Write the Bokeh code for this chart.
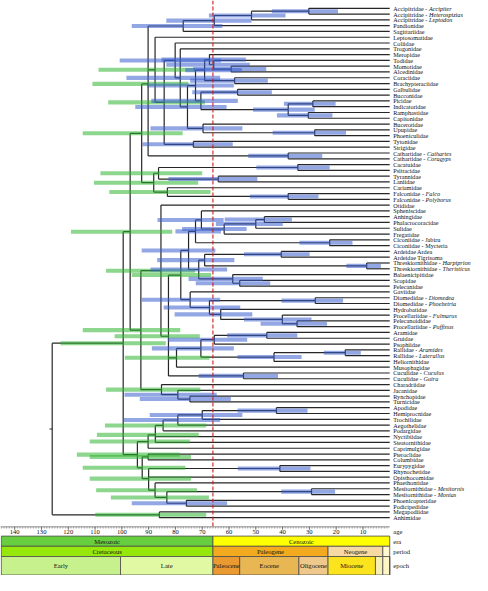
from bokeh.plotting import figure
from bokeh.models import Range1d
from bokeh.embed import file_html
from bokeh.resources import INLINE
from bokeh.core.properties import value

# ---------------- tips (top to bottom) ----------------
tip_plain = [
    "Accipitridae - ", "Accipitridae - ", "Accipitridae - ", "Pandionidae", "Sagittariidae",
    "Leptosomatidae", "Coliidae", "Trogonidae", "Meropidae", "Todidae", "Momotidae",
    "Alcedinidae", "Coraciidae", "Brachypteraciidae", "Galbulidae", "Bucconidae", "Picidae",
    "Indicatoridae", "Ramphastidae", "Capitonidae", "Bucerotidae", "Upupidae", "Phoeniculidae",
    "Tytonidae", "Strigidae", "Cathartidae - ", "Cathartidae - ", "Cacatuidae", "Psittacidae",
    "Tyrannidae", "Laniidae", "Cariamidae", "Falconidae - ", "Falconidae - ", "Otididae",
    "Spheniscidae", "Anhingidae", "Phalacrocoracidae", "Sulidae", "Fregatidae",
    "Ciconiidae - Jabiru", "Ciconiidae - Mycteria", "Ardeidae Ardea", "Ardeidae Tigrisoma",
    "Threskiornithidae - ", "Threskiornithidae - ", "Balaenicipitidae", "Scopidae", "Pelecanidae",
    "Gaviidae", "Diomedidae - ", "Diomedidae - ", "Hydrobatidae", "Procellariidae - ",
    "Pelecanoididae", "Procellariidae - ", "Aramidae", "Gruidae", "Psophiidae", "Rallidae - ",
    "Rallidae - ", "Heliornithidae", "Musophagidae", "Cuculidae - ", "Cuculidae - ",
    "Charadriidae", "Jacanidae", "Rynchopidae", "Turnicidae", "Apodidae", "Hemiprocnidae",
    "Trochilidae", "Aegothelidae", "Podargidae", "Nyctibiidae", "Steatornithidae",
    "Caprimulgidae", "Pteroclidae", "Columbidae", "Eurypygidae", "Rhynochetidae",
    "Opisthocomidae", "Phaethontidae", "Mesitornithidae - ", "Mesitornithidae - ",
    "Phoenicopteridae", "Podicipedidae", "Megapodiidae", "Anhimidae",
]
tip_italic = [
    "Accipiter", "Heterospizias", "Leptodon", "", "", "", "", "", "", "", "", "", "", "", "", "",
    "", "", "", "", "", "", "", "", "", "Cathartes", "Coragyps", "", "", "", "", "", "Falco",
    "Polyborus", "", "", "", "", "", "", "", "", "", "", "Harpiprion", "Theristicus", "", "", "",
    "", "Diomedea", "Phoebetria", "", "Fulmarus", "", "Puffinus", "", "", "", "Aramides",
    "Laterallus", "", "", "Cuculus", "Guira", "", "", "", "", "", "", "", "", "", "", "", "", "",
    "", "", "", "", "", "Mesitornis", "Monias", "", "", "", "",
]

# ---------------- internal nodes (post-order) ----------------
node_name = [
    "acc1", "acc2", "acc3", "acc4", "momalc", "todmom", "merop", "corbra", "corac", "galbuc",
    "picind", "ramcap", "pici", "picif", "coracpici", "upphoe", "bucer", "picocor", "trog",
    "coli", "strig", "landA", "lepto", "cath", "raptor", "psitt", "passer", "psipas", "falc",
    "carfal", "austral", "land", "anhphal", "suli", "freg", "sphen", "cico", "sphcic", "ardeid",
    "thresk", "ardthr", "scopel", "balae", "pelec", "water1", "diomed", "pelpuf", "fulm",
    "hydro", "procell", "gavi", "water", "argru", "psoph", "rall", "helio", "grui", "muso",
    "cucu", "wgc", "otid", "turn", "jaca", "chara", "coron2", "coron", "apohem", "troch",
    "aego", "podar", "nyct", "capri", "ptecol", "euryrh", "mesit", "phopod", "mesph", "phaet",
    "opis", "columb", "meta", "neoaves", "galloan", "root",
]
node_children = [
    [0, 1], ["acc1", 2], ["acc2", 3], ["acc3", 4], [10, 11], [9, "momalc"], [8, "todmom"],
    [12, 13], ["merop", "corbra"], [14, 15], [16, 17], [18, 19], ["picind", "ramcap"],
    ["galbuc", "pici"], ["corac", "picif"], [21, 22], [20, "upphoe"], ["coracpici", "bucer"],
    [7, "picocor"], [6, "trog"], [23, 24], ["coli", "strig"], [5, "landA"], [25, 26],
    ["acc4", "lepto", "cath"], [27, 28], [29, 30], ["psitt", "passer"], [32, 33], [31, "falc"],
    ["psipas", "carfal"], ["raptor", "austral"], [36, 37], ["anhphal", 38], ["suli", 39],
    [35, "freg"], [40, 41], ["sphen", "cico"], [42, 43], [44, 45], ["ardeid", "thresk"],
    [47, 48], [46, "scopel"], ["ardthr", "balae"], ["sphcic", "pelec"], [50, 51], [54, 55],
    [53, "pelpuf"], [52, "fulm"], ["diomed", "hydro"], [49, "procell"], ["water1", "gavi"],
    [56, 57], ["argru", 58], [59, 60], ["rall", 61], ["psoph", "helio"], ["grui", 62], [63, 64],
    ["water", "muso", "cucu"], [34, "wgc"], [67, 68], [66, "turn"], [65, "jaca"],
    ["otid", "chara"], ["land", "coron2"], [69, 70], ["apohem", 71], ["troch", 72],
    ["aego", 73], ["podar", 74, 75], ["nyct", 76], [77, 78], [79, 80], [83, 84], [85, 86],
    ["mesit", "phopod"], [82, "mesph"], ["euryrh", 81, "phaet"], ["ptecol", "opis"],
    ["capri", "columb"], ["coron", "meta"], [87, 88], ["neoaves", "galloan"],
]
node_age = [
    30.2, 51.6, 65.5, 77.1, 59.2, 65.7, 67.3, 57.9, 69.1, 56.8, 28.7, 30.4, 37.9, 70.5, 72.5,
    28.0, 69.7, 75.5, 78.2, 80.1, 73.3, 84.2, 87.6, 37.9, 90.2, 34.3, 64.0, 86.3, 37.9, 83.0,
    88.1, 92.6, 46.8, 50.0, 61.8, 70.3, 22.4, 72.5, 40.5, 8.6, 69.1, 56.0, 58.6, 71.3, 75.1,
    27.8, 34.6, 40.1, 63.1, 67.3, 74.5, 78.0, 45.9, 65.5, 16.6, 43.2, 70.5, 79.6, 54.6, 82.6,
    85.4, 74.6, 79.1, 85.2, 92.9, 96.9, 42.3, 70.0, 79.1, 84.6, 87.5, 90.2, 90.2, 41.0, 29.2,
    75.9, 83.2, 87.6, 90.0, 92.4, 94.2, 99.5, 86.0, 126.0,
]
bar_kind = [
    "B", "B", "B", "B", "B", "B", "B", "B", "B", "B", "B", "B", "B", "B", "B", "B", "B", "B",
    "B", "B", "B", "G", "G", "B", "G", "B", "B", "G", "B", "G", "G", "G", "B", "B", "B", "B",
    "B", "B", "B", "B", "B", "B", "B", "B", "B", "B", "B", "B", "B", "B", "B", "G", "B", "B",
    "B", "B", "B", "G", "B", "G", "G", "B", "B", "G", "G", "G", "B", "B", "B", "G", "G", "G",
    "G", "B", "B", "B", "G", "G", "G", "G", "G", "G", "G", "",
]
bar_lo = [
    19.3, 38.9, 51.6, 62.5, 46.1, 52.2, 53.7, 45.5, 55.2, 44.0, 20.2, 21.4, 28.0, 56.7, 58.2,
    16.3, 55.0, 60.9, 63.3, 63.0, 58.6, 69.0, 72.7, 25.2, 75.1, 22.4, 49.4, 70.0, 26.6, 66.9,
    71.5, 77.3, 36.5, 39.9, 53.4, 62.0, 13.9, 63.0, 29.9, 3.3, 58.0, 44.6, 47.4, 60.7, 65.1,
    17.4, 23.4, 29.2, 51.3, 55.8, 63.3, 66.7, 34.5, 53.2, 10.8, 32.9, 58.2, 67.3, 41.7, 70.9,
    72.7, 59.3, 64.6, 70.7, 78.2, 81.2, 30.7, 55.0, 63.3, 68.5, 71.3, 74.6, 74.2, 29.6, 20.4,
    60.7, 67.5, 71.9, 74.2, 76.3, 78.4, 83.6, 68.5, 0,
]
bar_hi = [
    44.0, 67.5, 83.4, 96.3, 73.3, 83.4, 85.2, 74.5, 76.3, 73.7, 39.5, 42.1, 51.0, 89.0, 90.6,
    43.7, 89.3, 95.0, 98.3, 100.8, 92.3, 105.1, 108.7, 52.8, 111.0, 49.8, 82.6, 108.0, 52.2,
    104.7, 110.4, 114.6, 61.6, 64.9, 77.5, 86.7, 33.7, 80.0, 54.4, 16.2, 86.8, 72.4, 75.1,
    89.3, 92.6, 40.4, 48.2, 54.4, 80.3, 84.4, 92.6, 96.3, 60.7, 82.8, 24.6, 56.8, 88.8, 98.9,
    71.3, 102.7, 105.9, 93.3, 99.0, 105.9, 114.6, 119.0, 56.8, 89.6, 99.5, 106.3, 109.3, 112.0,
    112.0, 56.7, 40.5, 96.3, 104.1, 109.6, 112.0, 114.6, 116.8, 122.9, 109.9, 0,
]
root_stem_age = 127.0
kpg_age = 66.0

# ---------------- geological time scale ----------------
age_ticks = [140, 130, 120, 110, 100, 90, 80, 70, 60, 50, 40, 30, 20, 10]
era_names = ["Mesozoic", "Cenozoic"]
era_start = [145.0, 66.0]
era_end = [66.0, 0.0]
era_colors = ["#67cf3f", "#ffff00"]
period_names = ["Cretaceous", "Paleogene", "Neogene", ""]
period_start = [145.0, 66.0, 23.03, 2.58]
period_end = [66.0, 23.03, 2.58, 0.0]
period_colors = ["#96e80c", "#f4aa1e", "#f7d9a3", "#fff8d0"]
epoch_names = ["Early", "Late", "Paleocene", "Eocene", "Oligocene", "Miocene", "", "", ""]
epoch_start = [145.0, 100.5, 66.0, 56.0, 33.9, 23.03, 5.33, 2.58, 0.0117]
epoch_end = [100.5, 66.0, 56.0, 33.9, 23.03, 5.33, 2.58, 0.0117, 0.0]
epoch_colors = ["#c6f18c", "#e2f9a4", "#ea9a30", "#e9b654", "#efc98c", "#fbe41e",
                "#f9efb4", "#fff6c6", "#fffbe6"]
row_labels = ["age", "era", "period", "epoch"]

# ---------------- layout constants (reference pixel units for y) ----------------
W, H = 472, 575
X_LEFT, X_RIGHT = 145.3, -30.9
TIP_Y0, TIP_DY = 8.0, 5.95
LABEL_X = -1.3
FS_TIP = 6.2
FS = 6.6
ROW_AGE = (541.0, 550.5)
ROW_ERA = (550.5, 561.0)
ROW_PER = (561.0, 571.5)
ROW_EPO = (571.5, 590.5)

TW = {' ': 250, '-': 333, 'A': 722, 'B': 667, 'C': 667, 'D': 722, 'E': 611, 'F': 556, 'G': 722,
      'H': 722, 'I': 333, 'J': 389, 'K': 722, 'L': 611, 'M': 889, 'N': 722, 'O': 722, 'P': 556,
      'Q': 722, 'R': 667, 'S': 556, 'T': 611, 'U': 722, 'V': 722, 'W': 944, 'X': 722, 'Y': 722,
      'Z': 611, 'a': 444, 'b': 500, 'c': 444, 'd': 500, 'e': 444, 'f': 333, 'g': 500, 'h': 500,
      'i': 278, 'j': 278, 'k': 500, 'l': 278, 'm': 778, 'n': 500, 'o': 500, 'p': 500, 'q': 500,
      'r': 333, 's': 389, 't': 278, 'u': 500, 'v': 500, 'w': 722, 'x': 500, 'y': 500, 'z': 444}


def text_width_px(s, size):
    return sum(TW.get(c, 500) for c in s) / 1000.0 * size


px_per_age = W / (X_LEFT - X_RIGHT)

# ---------------- tree layout ----------------
ypos = {}
xpos = {}
for i in range(len(tip_plain)):
    ypos[i] = TIP_Y0 + TIP_DY * i
    xpos[i] = 0.0
for k, n in enumerate(node_name):
    ch = node_children[k]
    ypos[n] = sum(ypos[c] for c in ch) / len(ch)
    xpos[n] = node_age[k]

hx0, hx1, hy = [], [], []
vx, vy0, vy1 = [], [], []
for k, n in enumerate(node_name):
    ch = node_children[k]
    ys = [ypos[c] for c in ch]
    vx.append(node_age[k]); vy0.append(min(ys)); vy1.append(max(ys))
    for c in ch:
        hx0.append(node_age[k]); hx1.append(xpos[c]); hy.append(ypos[c])
# root stem
hx0.append(root_stem_age); hx1.append(xpos["root"]); hy.append(ypos["root"])

p = figure(width=W, height=H, x_range=Range1d(X_LEFT, X_RIGHT), y_range=Range1d(591, 0),
           output_backend="svg", toolbar_location=None, min_border=0)
p.axis.visible = False
p.grid.visible = False
p.outline_line_color = None
p.background_fill_color = "white"
p.border_fill_color = "white"

LINE = "#262626"
p.segment(x0=hx0, y0=hy, x1=hx1, y1=hy, line_color=LINE, line_width=1.2)
p.segment(x0=vx, y0=vy0, x1=vx, y1=vy1, line_color=LINE, line_width=1.2)

# credibility bars
for kind, col in (("G", "#2fb52f"), ("B", "#3a5fcd")):
    ys, los, his = [], [], []
    for k, n in enumerate(node_name):
        if bar_kind[k] == kind:
            ys.append(ypos[n]); los.append(bar_lo[k]); his.append(bar_hi[k])
    p.hbar(y=ys, left=los, right=his, height=4.2, fill_color=col, fill_alpha=0.55,
           line_color=None)

# K-Pg boundary
p.segment(x0=[kpg_age], y0=[0], x1=[kpg_age], y1=[ROW_AGE[1]], line_color="#cc1f1f",
          line_width=1.1, line_dash="4 2")

# tip labels
tys = [ypos[i] for i in range(len(tip_plain))]
p.text(x=[LABEL_X] * len(tys), y=tys, text=tip_plain, text_font=value("Liberation Serif"),
       text_font_size=f"{FS_TIP}px", text_baseline="middle", text_align="left",
       text_color="#111")
ix, iy, it = [], [], []
for i, s in enumerate(tip_italic):
    if s:
        ix.append(LABEL_X - text_width_px(tip_plain[i], FS_TIP) / px_per_age)
        iy.append(ypos[i]); it.append(s)
p.text(x=ix, y=iy, text=it, text_font=value("Liberation Serif"), text_font_style="italic",
       text_font_size=f"{FS_TIP}px", text_baseline="middle", text_align="left",
       text_color="#111")

# ---------------- time scale ----------------
BORDER = "#4a4a4a"
# age ruler
p.quad(left=[X_LEFT], right=[0], top=[ROW_AGE[0]], bottom=[ROW_AGE[1]], fill_color="white",
       line_color=None)
p.segment(x0=[X_LEFT], y0=[ROW_AGE[0]], x1=[0], y1=[ROW_AGE[0]], line_color="#888",
          line_width=1)
mx = [a for a in range(1, 146)]
p.segment(x0=mx, y0=[ROW_AGE[0]] * len(mx), x1=mx, y1=[ROW_AGE[0] + 1.8] * len(mx),
          line_color="#777", line_width=0.6)
p.segment(x0=age_ticks, y0=[ROW_AGE[0]] * len(age_ticks), x1=age_ticks,
          y1=[ROW_AGE[0] + 3] * len(age_ticks), line_color="#555", line_width=0.8)
p.text(x=age_ticks, y=[ROW_AGE[0] + 5.5] * len(age_ticks), text=[str(a) for a in age_ticks],
       text_font=value("Liberation Serif"), text_font_size=f"{FS}px", text_baseline="middle",
       text_align="center", text_color="#111")


def draw_row(names, starts, ends, colors, row):
    p.quad(left=starts, right=ends, top=[row[0]] * len(starts), bottom=[row[1]] * len(starts),
           fill_color=colors, line_color=BORDER, line_width=0.8)
    tx, ty, tt = [], [], []
    for nm, s, e in zip(names, starts, ends):
        if nm:
            tx.append((min(s, X_LEFT) + e) / 2.0); ty.append((row[0] + row[1]) / 2.0); tt.append(nm)
    p.text(x=tx, y=ty, text=tt, text_font=value("Liberation Serif"), text_font_size=f"{FS}px",
           text_baseline="middle", text_align="center", text_color="#111")


draw_row(era_names, era_start, era_end, era_colors, ROW_ERA)
draw_row(period_names, period_start, period_end, period_colors, ROW_PER)
draw_row(epoch_names, epoch_start, epoch_end, epoch_colors, ROW_EPO)

rows = [ROW_AGE, ROW_ERA, ROW_PER, ROW_EPO]
p.text(x=[LABEL_X] * 4, y=[(r[0] + r[1]) / 2.0 for r in rows], text=row_labels,
       text_font=value("Liberation Serif"), text_font_size=f"{FS}px", text_baseline="middle",
       text_align="left", text_color="#111")

open("out.html", "w").write(file_html(p, INLINE))
